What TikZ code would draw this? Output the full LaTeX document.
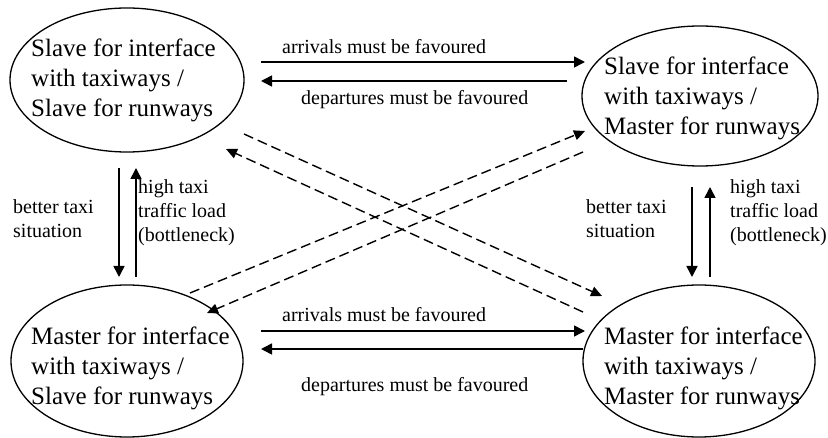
\documentclass[tikz,border=0pt]{standalone}
\usepackage{fontspec}
\setmainfont{Liberation Serif}
\usetikzlibrary{shapes.geometric, arrows.meta}

\tikzset{
  state/.style={ellipse, draw, line width=1.3pt, inner sep=0pt},
  statetext/.style={font=\fontsize{25}{30}\selectfont, align=left, inner sep=0pt, anchor=west},
  lbl/.style={font=\fontsize{20}{24}\selectfont, align=left, inner sep=0pt, anchor=west},
  flow/.style={line width=1.6pt, -{Triangle[length=11pt,width=11pt]}},
  jump/.style={line width=1.4pt, dash pattern=on 10pt off 5pt, -{Triangle[length=11pt,width=10pt]}}
}

\begin{document}
\begin{tikzpicture}[x=1pt, y=-1pt]
\useasboundingbox (0,0) rectangle (828,438);

% the four operating modes
\node[state, minimum width=234pt, minimum height=144pt] (tl) at (127,80) {};
\node[state, minimum width=236pt, minimum height=140pt] (tr) at (700,96) {};
\node[state, minimum width=232pt, minimum height=152pt] (bl) at (127,361) {};
\node[state, minimum width=232pt, minimum height=152pt] (br) at (699,361) {};

\node[statetext] (tltext) at (31,80) {Slave for interface\\with taxiways /\\Slave for runways};
\node[statetext] (trtext) at (604,98) {Slave for interface\\with taxiways /\\Master for runways};
\node[statetext] (bltext) at (31,368) {Master for interface\\with taxiways /\\Slave for runways};
\node[statetext] (brtext) at (604,368) {Master for interface\\with taxiways /\\Master for runways};

% end points of the transitions
\coordinate (ta1) at (261,62);  \coordinate (ta2) at (585,62);
\coordinate (td1) at (567,81);  \coordinate (td2) at (261,81);
\coordinate (ba1) at (261,331); \coordinate (ba2) at (585,331);
\coordinate (bd1) at (583,349); \coordinate (bd2) at (261,349);
\coordinate (ld1) at (119,168); \coordinate (ld2) at (119,277);
\coordinate (lu1) at (136,277); \coordinate (lu2) at (136,168);
\coordinate (rd1) at (692,187); \coordinate (rd2) at (692,277);
\coordinate (ru1) at (710,277); \coordinate (ru2) at (710,187);
\coordinate (x1a) at (244,134); \coordinate (x1b) at (602,296);
\coordinate (x2a) at (583,312); \coordinate (x2b) at (226,149);
\coordinate (x3a) at (190,293); \coordinate (x3b) at (585,131);
\coordinate (x4a) at (583,152); \coordinate (x4b) at (207,313);

% horizontal transitions
\draw[flow] (ta1) -- (ta2);
\draw[flow] (td1) -- (td2);
\draw[flow] (ba1) -- (ba2);
\draw[flow] (bd1) -- (bd2);

% vertical transitions
\draw[flow] (ld1) -- (ld2);
\draw[flow] (lu1) -- (lu2);
\draw[flow] (rd1) -- (rd2);
\draw[flow] (ru1) -- (ru2);

% diagonal transitions
\draw[jump] (x1a) -- (x1b);
\draw[jump] (x2a) -- (x2b);
\draw[jump] (x3a) -- (x3b);
\draw[jump] (x4a) -- (x4b);

% transition labels
\node[lbl] (lta) at (282,47) {arrivals must be favoured};
\node[lbl] (ltd) at (301,100) {departures must be favoured};
\node[lbl] (lba) at (282,315) {arrivals must be favoured};
\node[lbl] (lbd) at (301,387) {departures must be favoured};
\node[lbl] (lbt) at (13,219) {better taxi\\situation};
\node[lbl] (lht) at (138,213) {high taxi\\traffic load\\(bottleneck)};
\node[lbl] (rbt) at (586,219) {better taxi\\situation};
\node[lbl] (rht) at (730,213) {high taxi\\traffic load\\(bottleneck)};
\end{tikzpicture}
\end{document}
